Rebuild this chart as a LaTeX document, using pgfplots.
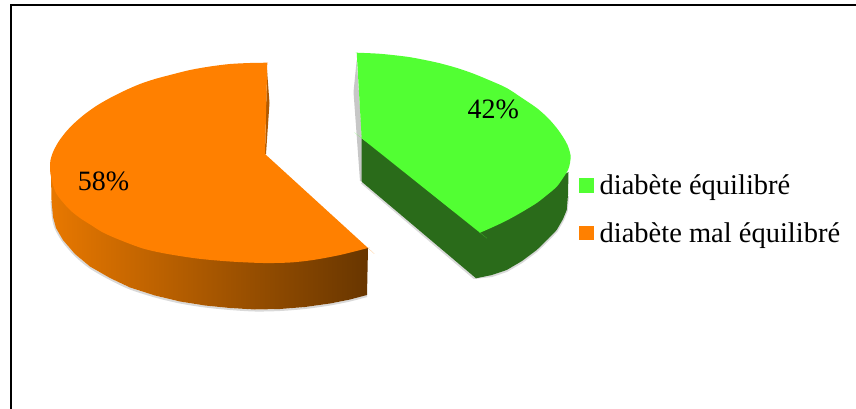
\documentclass[border=0pt]{standalone}
\usepackage{fontspec}
\setmainfont{Liberation Serif}
\usepackage{pgfplots}
\pgfplotsset{compat=1.18}
\definecolor{topgreen}{RGB}{82,255,51}
\definecolor{sidegreen}{RGB}{42,107,26}
\definecolor{toporange}{RGB}{255,128,0}
\definecolor{sideleft}{RGB}{232,120,0}
\definecolor{sideright}{RGB}{104,54,0}
\begin{document}
\begin{tikzpicture}
\useasboundingbox (0,0) rectangle (856pt,409pt);
\begin{axis}[
  x=1pt, y=1pt, y dir=reverse,
  xmin=0, xmax=856, ymin=0, ymax=409,
  hide axis, clip=false,
  anchor=south west, at={(0,0)},
  legend style={at={(axis cs:579.3,172.5)}, anchor=north west, draw=none, fill=none,
    font=\fontsize{28.5}{32}\selectfont, row sep=22.4pt, inner sep=0pt, outer sep=0pt,
    /tikz/every odd column/.append style={column sep=3.6pt}},
  legend cell align=left,
  legend image code/.code={\fill[#1] (0pt,-7.35pt) rectangle (14.7pt,7.35pt);},
]
% soft shadows below the solids
\addplot[forget plot, gray, opacity=.3, line width=2pt, yshift=-1pt, line join=round, smooth, tension=.5] coordinates {
 (367,295)(350,299.5)(330,303.5)(305,307)(280,309)(255,309.5)(230,308)(205,305.5)(180,301.5)(155,295.5)
 (130,287.5)(110,278)(90,266.5)(75,254)(63,240)(56,228)(53,217)(51.5,200)};
\addplot[forget plot, gray, opacity=.3, line width=2pt, yshift=-1pt, line join=round] coordinates {
 (361.7,181.7)(474,277)(492,275)(506.7,270)(522,261)(536.7,250)(548,239)(556.7,230)(563,219)(566.7,210)(568,195)};
% inner faces seen behind the cut edges
\addplot[forget plot, fill=black!40, draw=none, opacity=.55] coordinates {
 (356.7,60)(353.5,92)(360,181)(362,181)(362,138)} -- cycle;
\addplot[forget plot, fill=toporange!70!black, draw=none] coordinates {
 (267,70)(269.5,103)(266,154)(265,154)} -- cycle;
% side walls
\addplot[forget plot, draw=none, fill=sidegreen] coordinates {
 (361.7,138.3)(361.7,181.7)(476,278.3)(492,275)(506.7,270)(522,261)(536.7,250)(548,239)(556.7,230)
 (563,219)(566.7,210)(568,195)(568.5,172)(480,225)} -- cycle;
\addplot[forget plot, draw=none, left color=sideleft, right color=sideright] coordinates {
 (50,165)(51,175)(51.5,200)(53,217)(56,228)(63,240)(75,254)(90,266.5)(110,278)(130,287.5)(155,295.5)
 (180,301.5)(205,305.5)(230,308)(255,309.5)(280,309)(305,307)(330,303.5)(350,299.5)(367,295)(368,248)} -- cycle;
% top faces
\addplot[draw=none, fill=topgreen, smooth, tension=.5] coordinates {
 (356.7,52.7)(356.7,52.7)(356.7,52.7)(380,53.8)(406.7,56.7)(425,60)(440,63.3)(457,68)(473,73.5)(490,80.5)(506.7,88)(522,98)
 (536.7,108)(548,118)(556.7,128)(563,137)(567.5,145)(570.5,155)(570,163)(568,170)(563,178)(556.7,186.7)
 (547,195)(536.7,203)(522,212)(506.7,220.5)(493,227)(480,232.7)(480,232.7)(480,232.7)(361.7,138.3)(361.7,138.3)(361.7,138.3)} -- cycle;
\addlegendentry{diabète équilibré}
\addplot[draw=none, fill=toporange, smooth, tension=.5] coordinates {
 (267.3,62.7)(267.3,62.7)(267.3,62.7)(250,63)(230,64)(210,66.5)(190,70)(170,75)(155,79)(140,84)(125,90.5)(110,98)(97,105.5)
 (85,114)(75,122.5)(66.7,131)(59,141)(53.5,151)(50.5,160)(50,167)(50.5,174)(53,185)(56,193)(61,200)
 (70,210)(80,218)(91,225)(103,232.5)(120,240)(143,248.5)(165,253.5)(197,258.5)(230,261.5)(263,263)
 (290,262.5)(313,260)(340,255)(368,248)(368,248)(368,248)(265,154)(265,154)(265,154)} -- cycle;
\addlegendentry{diabète mal équilibré}
% frame along the top and left
\addplot[forget plot, black, line width=2.6pt, line join=miter] coordinates {(11,409)(11,5)(856,5)};
% value labels
\node[anchor=base, inner sep=0pt, font=\fontsize{28}{32}\selectfont] at (axis cs:103.6,190.7) {58\%};
\node[anchor=base, inner sep=0pt, font=\fontsize{28}{32}\selectfont] at (axis cs:493.3,118.3) {42\%};
\end{axis}
\end{tikzpicture}
\end{document}
